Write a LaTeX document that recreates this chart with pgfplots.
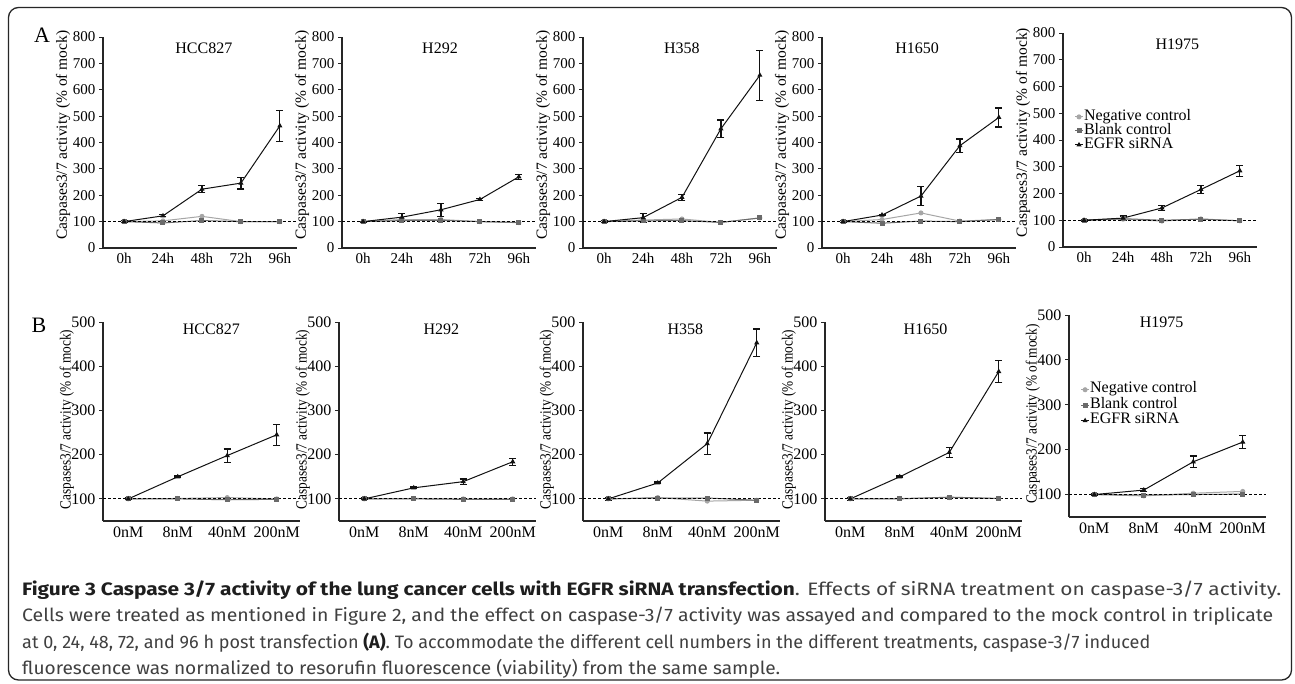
\documentclass[border=0pt]{standalone}
\usepackage{fontspec}
\setmainfont{Liberation Serif}
\newfontfamily\capfont{Fira Sans}
\usepackage{graphicx}
\usepackage{pgfplots}
\pgfplotsset{compat=1.18}

\definecolor{negc}{HTML}{A6A6A6}
\definecolor{blkc}{HTML}{6A6A6A}
\definecolor{egfr}{HTML}{111111}
\definecolor{captxt}{HTML}{404040}
\definecolor{capbold}{HTML}{1E1E1E}

\pgfplotsset{
  base/.style={scale only axis, axis x line=bottom, axis y line=left,
    axis line style={-, line width=1.1pt, black!85},
    tick align=outside, major tick length=4pt,
    xtick style={draw=none}, ytick style={line width=1pt, black!85},
    /pgf/number format/assume math mode=true, clip=false,
    xticklabel style={yshift=2pt},
    title style={anchor=center, font=\fontsize{16}{16}\selectfont}},
  rowA/.style={base, width=194pt, height=211pt, xmin=-0.54, xmax=4.44, ymin=0, ymax=800,
    ytick={0,100,...,800}, xtick={0,1,2,3,4}, xticklabels={0h,24h,48h,72h,96h},
    tick label style={font=\fontsize{15}{15}\selectfont},
    ylabel={Caspases3/7 activity (\% of mock)},
    ylabel style={font=\fontsize{15.5}{16}\selectfont, at={(axis description cs:-0.206,0.535)}, anchor=center},
    title style={at={(axis description cs:#1,0.962)}, yshift=-9pt}},
  rowB/.style={base, width=197pt, height=199pt, xmin=-0.51, xmax=3.47, ymin=50, ymax=500,
    ytick={100,200,...,500}, xtick={0,1,2,3}, xticklabels={0nM,8nM,40nM,200nM},
    tick label style={font=\fontsize{16}{16}\selectfont},
    ylabel={\scalebox{0.86}[1]{Caspases3/7 activity (\% of mock)}},
    ylabel style={font=\fontsize{15.5}{16}\selectfont, at={(axis description cs:-0.183,0.51)}, anchor=center},
    title style={at={(axis description cs:#1,0.97)}, yshift=-7pt}},
  neg/.style={color=negc, line width=1pt, mark=*, mark size=2pt},
  blk/.style={color=blkc, line width=1pt, mark=square*, mark size=2pt},
  egf/.style={color=egfr, line width=1pt, mark=triangle*, mark size=2pt,
    error bars/.cd, y dir=both, y explicit,
    error bar style={line width=1.2pt, color=egfr},
    error mark options={rotate=90, mark size=3.5pt, line width=1.2pt, color=egfr}},
  ref/.style={black, mark=none, line width=0.8pt, dash pattern=on 3pt off 2pt, forget plot},
  leg/.style 2 args={legend style={draw=none, fill=none, font=\fontsize{16}{15}\selectfont,
      at={#1}, anchor=west, inner sep=0pt, row sep=#2,
      nodes={inner sep=0.5pt, text height=9pt, text depth=2.5pt}},
    legend cell align=left,
    legend image code/.code={\draw[mark repeat=2, mark phase=2, ##1] plot coordinates {(0pt,0pt) (4pt,0pt) (8pt,0pt)};}},
}

\begin{document}
\begin{tikzpicture}
\useasboundingbox (0,0) rectangle (1295pt,-683pt);
\fill[white] (0,0) rectangle (1295pt,-683pt);
\draw[line width=1.3pt, black!85, rounded corners=10pt] (8.5pt,-7.5pt) rectangle (1291.5pt,-680pt);

\node[font=\fontsize{22}{22}\selectfont] at (42pt,-35pt) {A};
\node[font=\fontsize{22}{22}\selectfont] at (39pt,-325pt) {B};

% ---------------- Row A ----------------
\begin{axis}[rowA=0.52, title={HCC827}, at={(103pt,-248pt)}, anchor=south west]
\addplot[neg] coordinates {(0,100) (1,103) (2,120) (3,100) (4,100)};
\addplot[blk] coordinates {(0,100) (1,95) (2,104) (3,100) (4,100)};
\addplot[egf] coordinates {(0,100) +- (0,3) (1,122) +- (0,4) (2,223) +- (0,13) (3,246) +- (0,22) (4,463) +- (0,58)};
\addplot[ref] coordinates {(-0.54,100) (4.44,100)};
\end{axis}

\begin{axis}[rowA=0.505, title={H292}, at={(342pt,-248pt)}, anchor=south west]
\addplot[neg] coordinates {(0,100) (1,108) (2,108) (3,100) (4,96)};
\addplot[blk] coordinates {(0,100) (1,104) (2,105) (3,100) (4,97)};
\addplot[egf] coordinates {(0,100) +- (0,2) (1,117) +- (0,15) (2,145) +- (0,25) (3,184) +- (0,3) (4,270) +- (0,10)};
\addplot[ref] coordinates {(-0.54,100) (4.44,100)};
\end{axis}

\begin{axis}[rowA=0.51, title={H358}, at={(583pt,-248pt)}, anchor=south west]
\addplot[neg] coordinates {(0,100) (1,106) (2,110) (3,97) (4,114)};
\addplot[blk] coordinates {(0,100) (1,103) (2,104) (3,97) (4,114)};
\addplot[egf] coordinates {(0,100) +- (0,3) (1,115) +- (0,17) (2,192) +- (0,12) (3,452) +- (0,33) (4,655) +- (0,95)};
\addplot[ref] coordinates {(-0.54,100) (4.44,100)};
\end{axis}

\begin{axis}[rowA=0.49, title={H1650}, at={(822pt,-248pt)}, anchor=south west]
\addplot[neg] coordinates {(0,100) (1,108) (2,133) (3,102) (4,108)};
\addplot[blk] coordinates {(0,100) (1,94) (2,102) (3,100) (4,108)};
\addplot[egf] coordinates {(0,100) +- (0,3) (1,125) +- (0,3) (2,197) +- (0,35) (3,388) +- (0,25) (4,495) +- (0,36)};
\addplot[ref] coordinates {(-0.54,100) (4.44,100)};
\end{axis}

\begin{axis}[rowA=0.59, height=214pt, title={H1975}, at={(1063pt,-247pt)}, anchor=south west,
  leg={(axis cs:-0.25,434)}{1.5pt}]
\addplot[neg] coordinates {(0,100) (1,104) (2,97) (3,105) (4,98)};
\addlegendentry{Negative control}
\addplot[blk] coordinates {(0,100) (1,106) (2,100) (3,104) (4,98)};
\addlegendentry{Blank control}
\addplot[egf] coordinates {(0,100) +- (0,3) (1,108) +- (0,8) (2,146) +- (0,10) (3,215) +- (0,15) (4,285) +- (0,20)};
\addlegendentry{EGFR siRNA}
\addplot[ref] coordinates {(-0.54,100) (4.44,100)};
\end{axis}

% ---------------- Row B ----------------
\begin{axis}[rowB=0.55, title={HCC827}, at={(103pt,-521pt)}, anchor=south west]
\addplot[neg] coordinates {(0,100) (1,101) (2,103) (3,100)};
\addplot[blk] coordinates {(0,100) (1,100) (2,98) (3,99)};
\addplot[egf] coordinates {(0,100) +- (0,2) (1,150) +- (0,2) (2,198) +- (0,15) (3,245) +- (0,24)};
\addplot[ref] coordinates {(-0.51,100) (3.47,100)};
\end{axis}

\begin{axis}[rowB=0.52, title={H292}, at={(339pt,-521pt)}, anchor=south west]
\addplot[neg] coordinates {(0,100) (1,101) (2,100) (3,100)};
\addplot[blk] coordinates {(0,100) (1,100) (2,99) (3,99)};
\addplot[egf] coordinates {(0,100) +- (0,2) (1,125) +- (0,2) (2,139) +- (0,6) (3,184) +- (0,8)};
\addplot[ref] coordinates {(-0.51,100) (3.47,100)};
\end{axis}

\begin{axis}[rowB=0.52, title={H358}, at={(583pt,-521pt)}, anchor=south west]
\addplot[neg] coordinates {(0,100) (1,103) (2,95) (3,97)};
\addplot[blk] coordinates {(0,100) (1,102) (2,102) (3,97)};
\addplot[egf] coordinates {(0,100) +- (0,3) (1,136) +- (0,2) (2,225) +- (0,24) (3,453) +- (0,31)};
\addplot[ref] coordinates {(-0.51,100) (3.47,100)};
\end{axis}

\begin{axis}[rowB=0.51, title={H1650}, at={(825pt,-521pt)}, anchor=south west]
\addplot[neg] coordinates {(0,100) (1,101) (2,103) (3,101)};
\addplot[blk] coordinates {(0,100) (1,100) (2,104) (3,101)};
\addplot[egf] coordinates {(0,100) +- (0,3) (1,150) +- (0,2) (2,205) +- (0,12) (3,388) +- (0,25)};
\addplot[ref] coordinates {(-0.51,100) (3.47,100)};
\end{axis}

\begin{axis}[rowB=0.47, height=202pt, title={H1975}, at={(1069pt,-517pt)}, anchor=south west,
  leg={(axis cs:-0.28,299)}{3pt}]
\addplot[neg] coordinates {(0,100) (1,97) (2,103) (3,107)};
\addlegendentry{Negative control}
\addplot[blk] coordinates {(0,100) (1,99) (2,100) (3,101)};
\addlegendentry{Blank control}
\addplot[egf] coordinates {(0,100) +- (0,2) (1,110) +- (0,3) (2,173) +- (0,13) (3,217) +- (0,14)};
\addlegendentry{EGFR siRNA}
\addplot[ref] coordinates {(-0.51,100) (3.47,100)};
\end{axis}

% ---------------- Caption ----------------
\node[anchor=base west, inner sep=0pt, text=captxt] at (22pt,-595pt)
  {\resizebox{1259pt}{\height}{\capfont\fontsize{18}{20}\selectfont\textcolor{capbold}{\bfseries Figure 3 Caspase 3/7 activity of the lung cancer cells with EGFR siRNA transfection}. Effects of siRNA treatment on caspase-3/7 activity.}};
\node[anchor=base west, inner sep=0pt, text=captxt] at (22pt,-621.5pt)
  {\resizebox{1251pt}{\height}{\capfont\fontsize{18}{20}\selectfont Cells were treated as mentioned in Figure 2, and the effect on caspase-3/7 activity was assayed and compared to the mock control in triplicate}};
\node[anchor=base west, inner sep=0pt, text=captxt] at (22pt,-648pt)
  {\resizebox{1128pt}{\height}{\capfont\fontsize{18}{20}\selectfont at 0, 24, 48, 72, and 96 h post transfection \textcolor{capbold}{\bfseries (A)}. To accommodate the different cell numbers in the different treatments, caspase-3/7 induced}};
\node[anchor=base west, inner sep=0pt, text=captxt] at (22pt,-674.5pt)
  {\resizebox{758pt}{\height}{\capfont\fontsize{18}{20}\selectfont fluorescence was normalized to resorufin fluorescence (viability) from the same sample.}};
\end{tikzpicture}
\end{document}
